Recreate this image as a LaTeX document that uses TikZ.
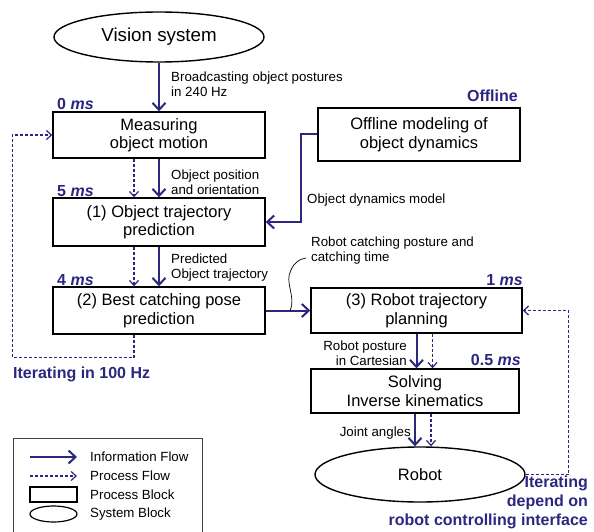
\documentclass[tikz,border=0pt]{standalone}
\usepackage{fontspec}
\setmainfont{Liberation Sans}
\usepackage{xcolor}
\usetikzlibrary{arrows.meta}
\usetikzlibrary{shapes.geometric}
\usetikzlibrary{math}
\definecolor{flowblue}{RGB}{43,38,128}

\begin{document}
\begin{tikzpicture}[x=1pt,y=-1pt,
  blk/.style={draw, line width=1.4pt, minimum width=212pt, minimum height=46pt,
    inner sep=0pt, align=center, font=\fontsize{16.5}{18.5}\selectfont},
  sys/.style={blk, ellipse},
  info/.style={flowblue, line width=2pt, -{Straight Barb[length=7pt,width=13pt]}},
  proc/.style={flowblue, line width=1.2pt, dash pattern=on 3pt off 2pt,
    -{Straight Barb[length=5pt,width=9pt]}},
  lbl/.style={inner sep=0pt, align=left, font=\fontsize{13.3}{15}\selectfont},
  tim/.style={inner sep=0pt, text=flowblue, font=\fontsize{16}{19}\selectfont\bfseries},
]
\tikzmath{
\dl=25;  %offset of process flow, left column
\dr=16;  %offset of process flow, right column
}
\useasboundingbox (0,0) rectangle (594,532);

%system blocks
\node[sys, minimum width=210pt, minimum height=50pt,
  font=\fontsize{18.75}{21}\selectfont] (Vis) at (159,37) {Vision system};
\node[sys, minimum width=210pt, minimum height=55pt] (Rob) at (420,474.5) {Robot};

%process blocks
\node[blk] (Mes) at (159,135) {Measuring\\object motion};
\node[blk, minimum height=48pt] (Traj) at (159,222) {(1) Object trajectory\\prediction};
\node[blk, minimum height=47pt] (Pose) at (159,310.5) {(2) Best catching pose\\prediction};
\node[blk, minimum width=202pt, minimum height=53pt] (Off) at (419,134.5) {Offline modeling of\\object dynamics};
\node[blk, minimum width=211pt, minimum height=45pt] (Plan) at (416.5,310.5) {(3) Robot trajectory\\planning};
\node[blk, minimum width=208pt, minimum height=44pt] (IK) at (415,391) {Solving\\Inverse kinematics};

%information flow
\draw[info] (Vis) -- (Mes);
\draw[info] (Mes) -- (Traj);
\draw[info] (Traj) -- (Pose);
\draw[info] (Off.west) -- ++(-16,0) |- (Traj.east);
\draw[info] (Pose.east) -- (Plan.west);
\draw[info] (Plan.south) -- (Plan.south |- IK.north);
\draw[info] (IK.south) -- (IK.south |- Rob.north);

%process flow
\draw[proc] ([xshift=-\dl pt]Mes.south) -- ([xshift=-\dl pt]Traj.north);
\draw[proc] ([xshift=-\dl pt]Traj.south) -- ([xshift=-\dl pt]Pose.north);
\draw[proc] ([xshift=-\dl pt]Pose.south) -- ++(0,23) -| ([xshift=-40pt]Mes.west) -- (Mes.west);
\draw[proc] ([xshift=\dr pt]Plan.south) -- ([xshift=\dr pt]Plan.south |- IK.north);
\draw[proc] ([xshift=\dr pt]IK.south) -- ([xshift=\dr pt]IK.south |- Rob.north);
\draw[proc] (Rob.east) -| ([xshift=46pt]Plan.east) -- (Plan.east);

%callout of the catching posture
\path (Pose.east) -- (Plan.west) coordinate[pos=0.55] (Cb);
\coordinate (Ct) at (306,258);
\draw[line width=0.7pt] (Cb) .. controls +(6,-14) and (284,282) .. (291,270)
  .. controls (294,263) and (299,259) .. (Ct);

%flow labels
\node[lbl, anchor=north west] (LBc) at (171,72) {Broadcasting object postures\\in 240 Hz};
\node[lbl, anchor=north west] (LPos) at (171,170) {Object position\\and orientation};
\node[lbl, anchor=north west] (LPre) at (171,254) {Predicted\\Object trajectory};
\node[lbl, anchor=north west] (LDyn) at (307,194) {Object dynamics model};
\node[lbl, anchor=north west] (LCat) at (311,237) {Robot catching posture and\\catching time};
\node[lbl, anchor=north east, align=right] (LCar) at (407,341) {Robot posture\\in Cartesian};
\node[lbl, anchor=north east] (LJnt) at (411,427) {Joint angles};

%timing labels
\node[tim, anchor=base west] (T0) at (57,110) {0 \textit{ms}};
\node[tim, anchor=base west] (T5) at (57,196) {5 \textit{ms}};
\node[tim, anchor=base west] (T4) at (57,285) {4 \textit{ms}};
\node[tim, anchor=base east] (T1) at (523,285) {1 \textit{ms}};
\node[tim, anchor=base east] (T05) at (521,365) {0.5 \textit{ms}};
\node[tim, anchor=base east] (TOff) at (518,102) {Offline};
\node[tim, anchor=base west] (It1) at (13,378) {Iterating in 100 Hz};
\node[tim, anchor=north east, align=right] (It2) at (588,476) {Iterating\\depend on\\robot controlling interface};

%legend
\draw[line width=0.9pt, black!75] (13,532) -- (13,438) -- (202,438) -- (202,532);
\coordinate (La1) at (30,457);
\coordinate (Lb1) at (77,457);
\coordinate (La2) at (30,476);
\coordinate (Lb2) at (77,476);
\draw[info] (La1) -- (Lb1);
\draw[proc] (La2) -- (Lb2);
\node[draw, line width=1.2pt, minimum width=47pt, minimum height=15pt, inner sep=0pt] (Lbox) at (53.5,494.5) {};
\node[draw, ellipse, line width=1.2pt, minimum width=47pt, minimum height=16pt, inner sep=0pt] (Lell) at (53.5,514) {};
\node[lbl, anchor=west] (L1) at (90,457) {Information Flow};
\node[lbl, anchor=west] (L2) at (90,476) {Process Flow};
\node[lbl, anchor=west] (L3) at (90,494.5) {Process Block};
\node[lbl, anchor=west] (L4) at (90,514) {System Block};
\end{tikzpicture}
\end{document}
